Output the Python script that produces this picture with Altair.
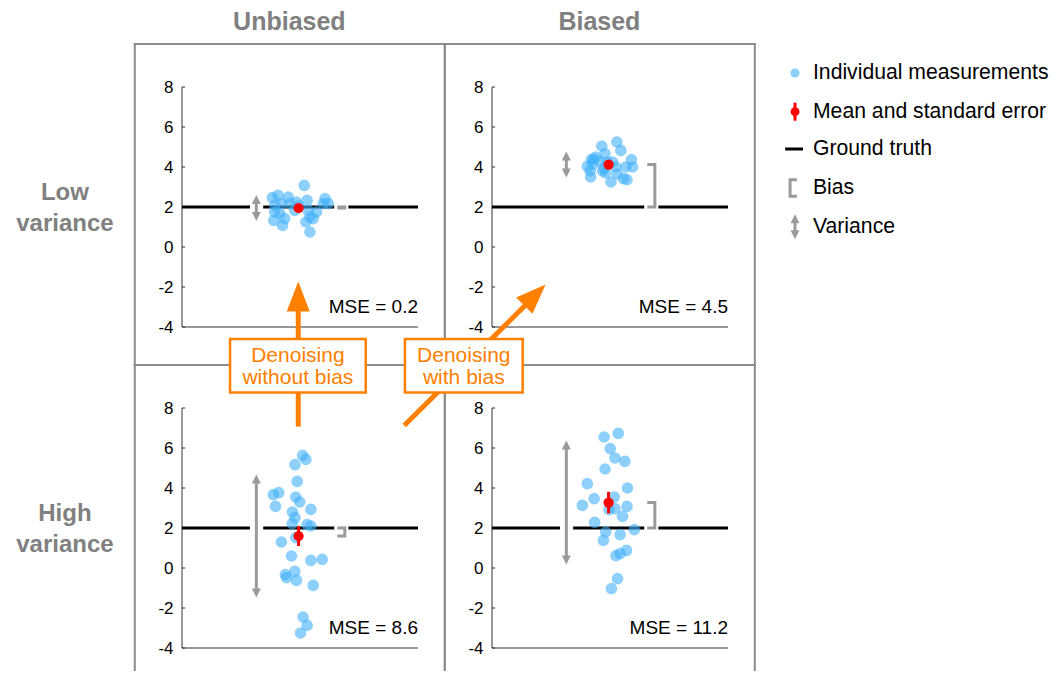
import altair as alt
import pandas as pd

# ---------------- chart values ----------------
column_titles = ["Unbiased", "Biased"]
row_title_lines = [["Low", "variance"], ["High", "variance"]]
mse_labels = ["MSE = 0.2", "MSE = 4.5", "MSE = 8.6", "MSE = 11.2"]
ground_truth = 2.0
y_tick_values = [-4, -2, 0, 2, 4, 6, 8]
y_tick_labels = ["-4", "-2", "0", "2", "4", "6", "8"]

low_unbiased_jitter = [5.18, 3.83, 4.07, 4.50, 4.85, 5.30, 6.06, 5.99, 3.93, 4.21, 4.57, 4.78, 3.93,
                       4.14, 3.89, 4.35, 4.26, 5.25, 5.42, 5.56, 5.42, 5.35, 5.70, 6.20, 4.95]
low_unbiased_values = [3.08, 2.47, 2.58, 2.50, 2.25, 2.33, 2.42, 2.17, 2.08, 2.17, 2.17, 1.83, 1.75,
                       1.67, 1.33, 1.42, 1.08, 1.25, 1.50, 1.42, 0.75, 1.83, 1.75, 2.17, 2.05]

low_biased_jitter = [4.65, 5.29, 5.46, 4.79, 4.40, 4.21, 4.04, 4.26, 4.16, 4.18, 4.68, 4.82, 5.04,
                     5.11, 4.89, 5.25, 5.57, 5.72, 5.67, 5.91, 5.96, 4.55, 4.75, 5.30, 4.30]
low_biased_values = [5.05, 5.25, 4.83, 4.67, 4.50, 4.37, 4.03, 4.13, 3.80, 3.50, 3.80, 3.70, 3.25,
                     4.25, 4.25, 4.00, 3.42, 3.37, 4.00, 4.37, 4.00, 4.30, 3.95, 3.65, 4.40]

high_unbiased_jitter = [5.11, 5.25, 4.79, 4.88, 3.87, 4.10, 3.96, 4.82, 4.99, 5.46, 4.68, 4.79, 4.67, 5.30,
                        5.46, 4.82, 4.21, 4.64, 5.46, 5.94, 4.38, 4.43, 4.78, 4.85, 5.56, 5.13, 5.30, 5.02]
high_unbiased_values = [5.63, 5.43, 5.17, 4.33, 3.67, 3.77, 3.08, 3.55, 3.30, 2.93, 2.80, 2.52, 2.22, 2.17,
                        2.10, 1.52, 1.30, 0.60, 0.38, 0.43, -0.33, -0.48, -0.17, -0.62, -0.87, -2.45, -2.87, -3.25]

high_biased_jitter = [5.35, 4.75, 5.01, 5.21, 5.63, 4.79, 4.04, 5.74, 4.33, 5.18, 3.83, 5.72, 4.96,
                      5.21, 5.53, 4.35, 4.82, 6.03, 5.43, 4.72, 5.70, 5.43, 5.25, 5.32, 5.06]
high_biased_values = [6.73, 6.55, 5.97, 5.50, 5.33, 4.95, 4.22, 4.00, 3.47, 3.55, 3.13, 3.08, 2.92,
                      2.97, 2.58, 2.28, 1.80, 1.92, 1.67, 1.38, 0.88, 0.72, 0.62, -0.53, -1.03]

panel_means = [1.95, 4.12, 1.60, 3.27]
panel_std_errors = [0.12, 0.13, 0.50, 0.54]
panel_spreads = [0.65, 0.65, 3.08, 3.10]

legend_labels = ["Individual measurements", "Mean and standard error", "Ground truth", "Bias", "Variance"]
box_label_lines = [["Denoising", "without bias"], ["Denoising", "with bias"]]

panel_jitters = [low_unbiased_jitter, low_biased_jitter, high_unbiased_jitter, high_biased_jitter]
panel_values = [low_unbiased_values, low_biased_values, high_unbiased_values, high_biased_values]

# ---------------- styling / layout ----------------
FONT = "Liberation Sans"
BLUE = "#40B0F8"
RED = "#FF0000"
ANN_GRAY = "#9A9A9A"
FRAME_GRAY = "#8C8C8C"
ORANGE = "#FF8000"
TITLE_GRAY = "#808080"
AXIS_COLOR = "#333333"

PW, PH = 236, 240
X_MIN, X_MAX = 0.0, 10.0
Y_MIN, Y_MAX = -4.0, 8.0
XS = alt.Scale(domain=[X_MIN, X_MAX], nice=False, zero=False)
YS = alt.Scale(domain=[Y_MIN, Y_MAX], nice=False, zero=False)

MEAN_X = 4.94
VAR_X = 3.15
BR_X0, BR_X1 = 6.58, 6.90
VAR_GAP = (2.88, 3.44)
BIAS_GAP = (6.45, 7.05)
FX0, FX1 = -2.0, 11.136
FY_TOP, FY_MID, FY_BOT = 10.15, -5.9, -5.1

UP_HEAD = "M0,-1L1,1L-1,1Z"
DOWN_HEAD = "M0,1L1,-1L-1,-1Z"
BIG_HEAD = "M0,-1L0.767,1L-0.767,1Z"


def xq(f):
    return alt.X(f"{f}:Q", scale=XS, axis=None)


def yq(f):
    return alt.Y(f"{f}:Q", scale=YS, axis=None)


def seg_rule(segs, **mark):
    df = pd.DataFrame(segs, columns=["x", "y", "x2", "y2"])
    return alt.Chart(df).mark_rule(**mark).encode(
        x=xq("x"), y=yq("y"), x2="x2:Q", y2="y2:Q")


def texts(xs, ys, ts, **mark):
    df = pd.DataFrame({"x": xs, "y": ys, "t": ts})
    return alt.Chart(df).mark_text(font=FONT, baseline="middle", **mark).encode(
        x=xq("x"), y=yq("y"), text="t:N")


def var_arrow(x, lo, hi, head_size=81, half=0.225):
    shaft = seg_rule([(x, lo + 0.2, x, hi - 0.2)], color=ANN_GRAY, strokeWidth=3)
    up = alt.Chart(pd.DataFrame({"x": [x], "y": [hi - half]})).mark_point(
        shape=UP_HEAD, filled=True, size=head_size, color=ANN_GRAY, opacity=1, strokeWidth=0
    ).encode(x=xq("x"), y=yq("y"))
    down = alt.Chart(pd.DataFrame({"x": [x], "y": [lo + half]})).mark_point(
        shape=DOWN_HEAD, filled=True, size=head_size, color=ANN_GRAY, opacity=1, strokeWidth=0
    ).encode(x=xq("x"), y=yq("y"))
    return [shaft, up, down]


def bracket(xa, xb, ya, yb):
    df = pd.DataFrame({"x": [xa, xb, xb, xa], "y": [ya, ya, yb, yb], "o": [0, 1, 2, 3]})
    return alt.Chart(df).mark_line(color=ANN_GRAY, strokeWidth=3, strokeJoin="miter").encode(
        x=xq("x"), y=yq("y"), order="o:Q")


def panel(k):
    row = k // 2
    mean, se, sd = panel_means[k], panel_std_errors[k], panel_spreads[k]
    layers = []
    # frame
    if row == 0:
        fsegs = [(FX0, FY_TOP, FX1, FY_TOP), (FX0, FY_MID, FX1, FY_MID),
                 (FX0, FY_MID, FX0, FY_TOP), (FX1, FY_MID, FX1, FY_TOP)]
    else:
        fsegs = [(FX0, FY_TOP, FX1, FY_TOP), (FX0, FY_BOT, FX0, FY_TOP), (FX1, FY_BOT, FX1, FY_TOP)]
    layers.append(seg_rule(fsegs, color=FRAME_GRAY, strokeWidth=2, strokeCap="square"))
    # axes: y axis line, x axis line, inward ticks, tick labels
    layers.append(seg_rule([(X_MIN, Y_MIN, X_MIN, Y_MAX), (X_MIN, Y_MIN, X_MAX, Y_MIN)],
                           color=AXIS_COLOR, strokeWidth=1))
    layers.append(seg_rule([(X_MIN, t, X_MIN + 0.13, t) for t in y_tick_values],
                           color=AXIS_COLOR, strokeWidth=1))
    layers.append(texts([X_MIN - 0.36] * len(y_tick_values), y_tick_values, y_tick_labels,
                        align="right", fontSize=17, color="black", dy=1))
    # ground truth with gaps
    gaps = [BIAS_GAP] if k == 1 else [VAR_GAP, BIAS_GAP]
    edges = [X_MIN] + [g for gap in gaps for g in gap] + [X_MAX]
    gsegs = [(edges[i], ground_truth, edges[i + 1], ground_truth) for i in range(0, len(edges), 2)]
    layers.append(seg_rule(gsegs, color="black", strokeWidth=3))
    # measurements
    pts = pd.DataFrame({"x": panel_jitters[k], "y": panel_values[k]})
    layers.append(alt.Chart(pts).mark_circle(size=135, color=BLUE, opacity=0.6).encode(
        x=xq("x"), y=yq("y")))
    # mean and standard error
    layers.append(seg_rule([(MEAN_X, mean - se, MEAN_X, mean + se)], color=RED, strokeWidth=3))
    layers.append(alt.Chart(pd.DataFrame({"x": [MEAN_X], "y": [mean]})).mark_circle(
        size=105, color=RED, opacity=1).encode(x=xq("x"), y=yq("y")))
    # variance arrow and bias bracket
    layers += var_arrow(VAR_X, mean - sd, mean + sd)
    layers.append(bracket(BR_X0, BR_X1, mean, ground_truth))
    # MSE
    layers.append(texts([X_MAX], [-3.0], [mse_labels[k]], align="right", fontSize=19, color="black"))
    # column / row titles
    if row == 0:
        layers.append(texts([4.55], [11.25], [column_titles[k % 2]], align="center", fontSize=25,
                            fontWeight="bold", color=TITLE_GRAY))
    if k % 2 == 0:
        layers.append(texts([-4.96, -4.96], [2.7, 1.15], row_title_lines[row], align="center",
                            fontSize=24, fontWeight="bold", color=TITLE_GRAY))
    # legend (drawn in the top-right panel)
    if k == 1:
        ly = [8.7, 6.765, 4.9, 2.95, 1.015]
        sx = 12.84
        layers.append(alt.Chart(pd.DataFrame({"x": [sx], "y": [ly[0]]})).mark_circle(
            size=85, color=BLUE, opacity=0.6).encode(x=xq("x"), y=yq("y")))
        layers.append(seg_rule([(sx, ly[1] - 0.45, sx, ly[1] + 0.45)], color=RED, strokeWidth=3))
        layers.append(alt.Chart(pd.DataFrame({"x": [sx], "y": [ly[1]]})).mark_circle(
            size=80, color=RED, opacity=1).encode(x=xq("x"), y=yq("y")))
        layers.append(seg_rule([(12.42, ly[2], 13.18, ly[2])], color="black", strokeWidth=3))
        layers.append(bracket(12.92, 12.63, ly[3] + 0.415, ly[3] - 0.415))
        layers += var_arrow(sx, ly[4] - 0.625, ly[4] + 0.625)
        layers.append(texts([13.6] * 5, ly, legend_labels, align="left", fontSize=21.2, color="black"))
    # orange arrows and boxes (drawn last, in the bottom-right panel)
    if k == 3:
        layers.append(seg_rule([(-8.21, 7.07, -8.21, 13.0), (-3.72, 7.12, 1.40, 13.12)],
                               color=ORANGE, strokeWidth=5))
        heads = pd.DataFrame({"x": [-8.21, 1.82], "y": [13.57, 13.65], "a": [0, 45]})
        layers.append(alt.Chart(heads).mark_point(
            shape=BIG_HEAD, filled=True, size=900, color=ORANGE, opacity=1, strokeWidth=0
        ).encode(x=xq("x"), y=yq("y"), angle=alt.Angle("a:Q", scale=None)))
        boxes = pd.DataFrame({"x": [-11.1, -3.69], "x2": [-5.35, 1.30],
                              "y": [8.77, 8.77], "y2": [11.45, 11.45]})
        layers.append(alt.Chart(boxes).mark_rect(fill="white", stroke=ORANGE, strokeWidth=2.5).encode(
            x=xq("x"), x2="x2:Q", y=yq("y"), y2="y2:Q"))
        bx = [-8.225, -8.225, -1.195, -1.195]
        by = [10.61, 9.525, 10.61, 9.525]
        bt = box_label_lines[0] + box_label_lines[1]
        layers.append(texts(bx, by, bt, align="center", fontSize=21, color=ORANGE))
    return alt.layer(*layers).properties(width=PW, height=PH)


chart = alt.concat(
    panel(0), panel(1), panel(2), panel(3),
    columns=2, spacing={"row": 81, "column": 74}, bounds="flush"
).properties(
    padding={"left": 8, "top": 2, "right": 0, "bottom": 0},
    background="white",
).configure_view(stroke=None)

chart.save("out.html", embed_options={"renderer": "svg", "actions": False})
